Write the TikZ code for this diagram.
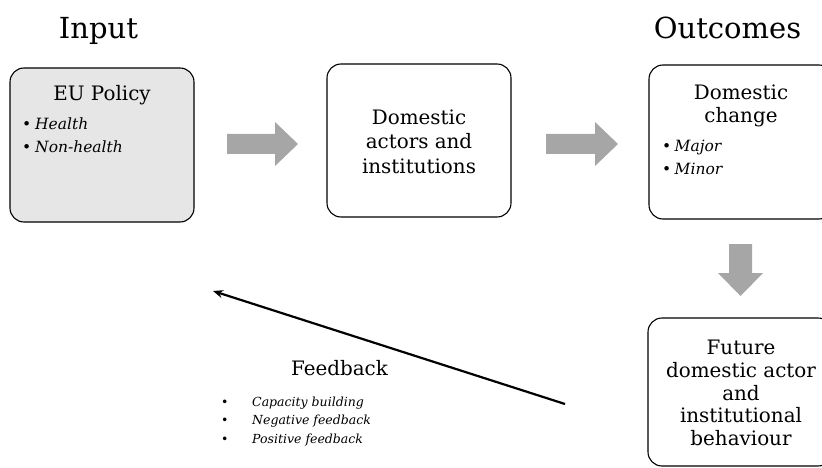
\documentclass[tikz,border=0pt]{standalone}
\usepackage{fontspec}
\setmainfont{DejaVu Serif}
\usetikzlibrary{arrows.meta}
\definecolor{boxgray}{HTML}{E6E6E6}
\definecolor{arrowgray}{HTML}{A6A6A6}
\tikzset{
  stagebox/.style={draw=black, line width=1.1pt, rounded corners=14pt, inner sep=0pt},
  title/.style={font=\fontsize{29}{34}\selectfont, anchor=base},
  boxtext/.style={font=\fontsize{19.9}{23.5}\selectfont, anchor=base, align=center, inner sep=0pt},
  item/.style={font=\fontsize{15.5}{18}\selectfont\itshape, anchor=base west, inner sep=0pt},
  smallitem/.style={font=\fontsize{12.5}{14}\selectfont\itshape, anchor=base west, inner sep=0pt},
  blockarrow/.style={fill=arrowgray},
  fbarrow/.style={line width=2.2pt, -{Stealth[length=10pt,width=8pt]}}
}
% bullet in a fixed-width box, in the current font size
\newcommand{\bul}[1]{\makebox[#1][l]{\normalfont •}}
\begin{document}
\begin{tikzpicture}[x=1pt,y=-1pt]
\useasboundingbox (0,0) rectangle (822,468);
\clip (0,0) rectangle (822,468);

% column titles
\node[title] (tin) at (98.5,39) {Input};
\node[title] (tout) at (727.5,39) {Outcomes};

% stage boxes
\node[stagebox, fill=boxgray, minimum width=184pt, minimum height=154pt] (eu) at (102,145) {};
\node[stagebox, minimum width=184pt, minimum height=153pt] (dom) at (419,140.5) {};
\node[stagebox, minimum width=184pt, minimum height=154pt] (chg) at (741,142) {};
\node[stagebox, minimum width=184pt, minimum height=148pt] (fut) at (740,392) {};

% EU policy
\node[boxtext] (eut) at (102,101) {EU Policy};
\node[item] (eu1) at (22,130) {\bul{13pt}Health};
\node[item] (eu2) at (22,153) {\bul{13pt}Non-health};

% domestic actors
\node[boxtext] (dom1) at (419,125) {Domestic};
\node[boxtext] (dom2) at (419,149) {actors and};
\node[boxtext] (dom3) at (419,174) {institutions};

% domestic change
\node[boxtext] (chg1) at (741,100) {Domestic};
\node[boxtext] (chg2) at (741,123) {change};
\node[item] (chg3) at (662,152) {\bul{12.5pt}Major};
\node[item] (chg4) at (662,175) {\bul{12.5pt}Minor};

% future behaviour
\node[boxtext] (fut1) at (741,354) {Future};
\node[boxtext] (fut2) at (741,377) {domestic actor};
\node[boxtext] (fut3) at (741,400) {and};
\node[boxtext] (fut4) at (741,422) {institutional};
\node[boxtext] (fut5) at (741,445) {behaviour};

% block arrows between stages
\fill[blockarrow] (227,134) -- (275,134) -- (275,122) -- (298,144) -- (275,166) -- (275,154) -- (227,154) -- cycle;
\fill[blockarrow] (546,134) -- (595,134) -- (595,122) -- (618,144) -- (595,166) -- (595,154) -- (546,154) -- cycle;
\fill[blockarrow] (729,244) -- (752,244) -- (752,273) -- (763,273) -- (740.5,296) -- (718,273) -- (729,273) -- cycle;

% feedback loop
\coordinate (fbtail) at (565,404);
\coordinate (fbhead) at (213,291);
\draw[fbarrow] (fbtail) -- (fbhead);
\node[boxtext] (fbt) at (339.5,375) {Feedback};
\node[smallitem] (fb1) at (221,406) {\bul{31pt}Capacity building};
\node[smallitem] (fb2) at (221,424.5) {\bul{31pt}Negative feedback};
\node[smallitem] (fb3) at (221,443) {\bul{31pt}Positive feedback};
\end{tikzpicture}
\end{document}
